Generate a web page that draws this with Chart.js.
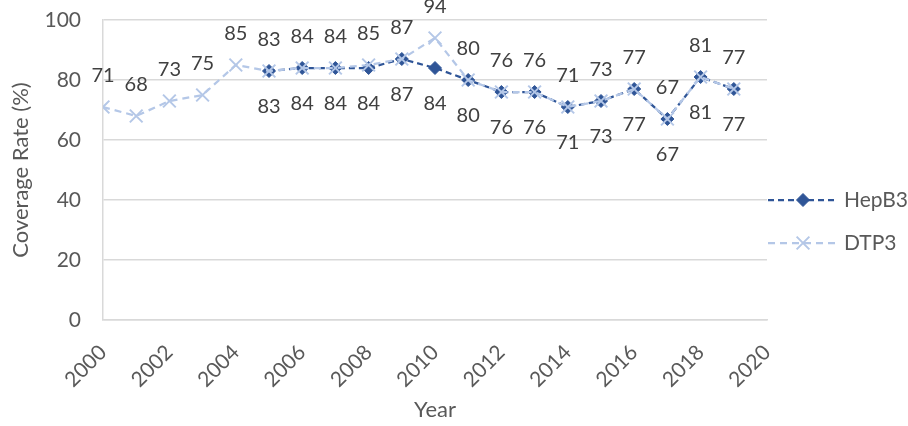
<!DOCTYPE html>
<html>
<head>
<meta charset="utf-8">
<script src="https://cdn.jsdelivr.net/npm/chart.js@4/dist/chart.umd.min.js"></script>
<style>
  html, body { margin: 0; padding: 0; background: #fff; }
  #wrap { width: 908px; height: 426px; }
</style>
</head>
<body>
<div id="wrap"><canvas id="chart"></canvas></div>
<script>
(function () {
    "use strict";

    const years = [2000, 2001, 2002, 2003, 2004, 2005, 2006, 2007, 2008, 2009,
                   2010, 2011, 2012, 2013, 2014, 2015, 2016, 2017, 2018, 2019];
    const hepB3 = [null, null, null, null, null, 83, 84, 84, 84, 87,
                   84, 80, 76, 76, 71, 73, 77, 67, 81, 77];
    const dtp3 = [71, 68, 73, 75, 85, 83, 84, 84, 85, 87,
                  94, 80, 76, 76, 71, 73, 77, 67, 81, 77];
    const seriesNames = ["HepB3", "DTP3"];

    const DARK = "#2F5597";
    const LIGHT = "#B4C7E7";
    const GRID = "#D9D9D9";
    const TEXT = "#595959";
    const FONT = "Lato, 'Open Sans', sans-serif";

    function points(values) {
        return years.map((y, i) => ({ x: y, y: values[i] }));
    }

    // value labels: DTP3 above, HepB3 below
    const valueLabels = {
        id: "valueLabels",
        afterDatasetsDraw(chart) {
            const ctx = chart.ctx;
            ctx.save();
            ctx.font = "20px " + FONT;
            ctx.fillStyle = "#404040";
            ctx.textAlign = "center";
            ctx.textBaseline = "middle";
            chart.data.datasets.forEach((ds, di) => {
                const meta = chart.getDatasetMeta(di);
                const dy = ds.label === "DTP3" ? -31 : 36;
                meta.data.forEach((pt, i) => {
                    const v = ds.data[i].y;
                    if (v === null || v === undefined) return;
                    ctx.fillText(String(v), pt.x, pt.y + dy);
                });
            });
            ctx.restore();
        }
    };

    // legend drawn to the right of the plot
    const sideLegend = {
        id: "sideLegend",
        afterDraw(chart) {
            const ctx = chart.ctx;
            const x0 = chart.chartArea.right + 1;
            const rows = [200, 243];
            ctx.save();
            chart.data.datasets.forEach((ds, di) => {
                const y = rows[di];
                ctx.strokeStyle = ds.borderColor;
                ctx.lineWidth = ds.borderWidth;
                ctx.setLineDash(ds.borderDash);
                ctx.beginPath();
                ctx.moveTo(x0, y);
                ctx.lineTo(x0 + 70, y);
                ctx.stroke();
                ctx.setLineDash([]);
                ctx.strokeStyle = ds.pointBorderColor;
                ctx.fillStyle = ds.pointBackgroundColor;
                ctx.lineWidth = ds.pointBorderWidth;
                Chart.helpers.drawPoint(ctx, {
                    pointStyle: ds.pointStyle,
                    radius: ds.pointRadius,
                    borderWidth: ds.pointBorderWidth
                }, x0 + 35, y);
                ctx.fillStyle = TEXT;
                ctx.font = "21px " + FONT;
                ctx.textBaseline = "middle";
                ctx.textAlign = "left";
                ctx.fillText(ds.label, x0 + 76, y);
            });
            ctx.restore();
        }
    };

    new Chart(document.getElementById("chart"), {
        type: "line",
        data: {
            datasets: [
                {
                    label: seriesNames[0],
                    data: points(hepB3),
                    borderColor: DARK,
                    backgroundColor: DARK,
                    borderWidth: 2.25,
                    borderDash: [6, 4],
                    pointStyle: "rectRot",
                    pointRadius: 6.5,
                    pointBackgroundColor: DARK,
                    pointBorderColor: DARK,
                    pointBorderWidth: 1,
                    spanGaps: false,
                    order: 1
                },
                {
                    label: seriesNames[1],
                    data: points(dtp3),
                    borderColor: LIGHT,
                    backgroundColor: LIGHT,
                    borderWidth: 2.25,
                    borderDash: [7, 5],
                    pointStyle: "crossRot",
                    pointRadius: 9,
                    pointBackgroundColor: LIGHT,
                    pointBorderColor: LIGHT,
                    pointBorderWidth: 2,
                    order: 0
                }
            ]
        },
        options: {
            responsive: true,
            maintainAspectRatio: false,
            animation: false,
            layout: { padding: { top: 20, right: 141, bottom: 0, left: 0 } },
            plugins: {
                legend: { display: false },
                tooltip: { enabled: false }
            },
            scales: {
                x: {
                    type: "linear",
                    min: 2000,
                    max: 2020,
                    afterFit(s) { s.height = 106; },
                    grid: { display: false },
                    border: { display: true, color: GRID, width: 1.5 },
                    ticks: {
                        stepSize: 2,
                        minRotation: 45,
                        maxRotation: 45,
                        padding: 12,
                        color: TEXT,
                        font: { family: FONT, size: 21 },
                        callback: (v) => String(v)
                    },
                    title: {
                        display: true,
                        text: "Year",
                        color: TEXT,
                        font: { family: FONT, size: 22 },
                        padding: { top: 0, bottom: 3 }
                    }
                },
                y: {
                    min: 0,
                    max: 100,
                    afterFit(s) { s.width = 103; },
                    grid: { color: GRID, lineWidth: 1.5, drawTicks: true, tickLength: 20, tickColor: "rgba(0,0,0,0)" },
                    border: { display: true, color: GRID, width: 1.5 },
                    ticks: {
                        stepSize: 20,
                        padding: 2,
                        color: TEXT,
                        font: { family: FONT, size: 21 }
                    },
                    title: {
                        display: true,
                        text: "Coverage Rate (%)",
                        color: TEXT,
                        font: { family: FONT, size: 22 },
                        padding: { top: 8, bottom: 0 }
                    }
                }
            }
        },
        plugins: [valueLabels, sideLegend]
    });
})();
</script>
</body>
</html>
